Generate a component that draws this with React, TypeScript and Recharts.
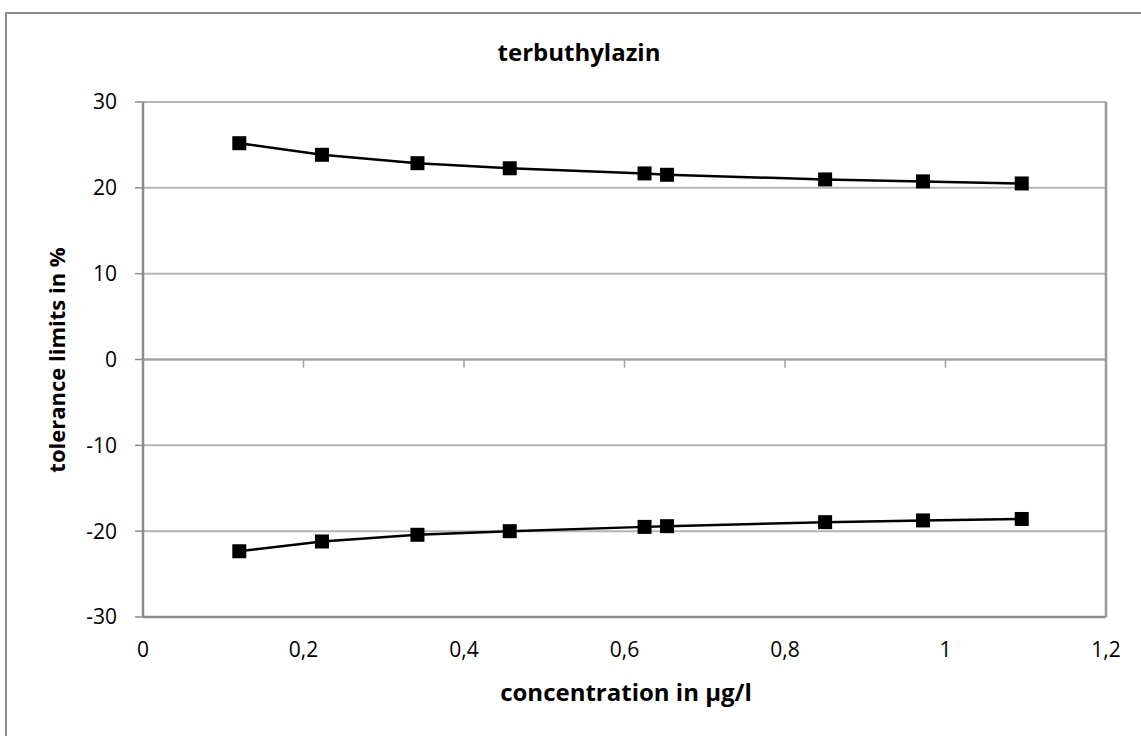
import React from 'react';
import {
  LineChart,
  Line,
  XAxis,
  YAxis,
  CartesianGrid,
  ReferenceLine,
} from 'recharts';

const concentrations = [0.12, 0.223, 0.342, 0.457, 0.625, 0.653, 0.85, 0.972, 1.095];
const upperLimits = [25.2, 23.85, 22.87, 22.28, 21.68, 21.52, 20.98, 20.75, 20.51];
const lowerLimits = [-22.34, -21.2, -20.42, -20.0, -19.5, -19.42, -18.95, -18.75, -18.58];

const xTicks = [0, 0.2, 0.4, 0.6, 0.8, 1, 1.2];
const yTicks = [-30, -20, -10, 0, 10, 20, 30];

const chartTitle = 'terbuthylazin';
const xTitle = 'concentration in µg/l';
const yTitle = 'tolerance limits in %';

const data = concentrations.map((x, i) => ({
  x,
  upper: upperLimits[i],
  lower: lowerLimits[i],
}));

const FONT = '"Open Sans", Lato, sans-serif';

const SquareDot = (props: any) => {
  const { cx, cy } = props;
  if (cx == null || cy == null) return null;
  const s = 14;
  return <rect x={cx - s / 2} y={cy - s / 2} width={s} height={s} fill="#000" />;
};

export default function App() {
  return (
    <div
      style={{
        position: 'absolute',
        left: 0,
        top: 0,
        width: 1141,
        height: 736,
        overflow: 'hidden',
        background: '#fff',
        fontFamily: FONT,
      }}
    >
      <div
        style={{
          position: 'absolute',
          left: 5,
          top: 12,
          width: 1300,
          height: 900,
          borderLeft: '2px solid #8c8c8c',
          borderTop: '2px solid #8c8c8c',
          boxSizing: 'border-box',
        }}
      />
      <div style={{ position: 'absolute', left: 0, top: 0 }}>
        <LineChart
          width={1141}
          height={736}
          data={data}
          margin={{ top: 102, right: 35, left: 0, bottom: 79 }}
        >
          <CartesianGrid vertical={false} stroke="#b4b4b4" strokeWidth={2} />
          <XAxis
            dataKey="x"
            type="number"
            domain={[0, 1.2]}
            ticks={xTicks}
            height={40}
            tickLine={false}
            tickSize={0}
            tickMargin={25}
            axisLine={{ stroke: '#8c8c8c', strokeWidth: 2.5 }}
            tick={{ fill: '#000', fontSize: 21, fontFamily: FONT }}
            tickFormatter={(v: number) => String(v).replace('.', ',')}
            allowDataOverflow
          />
          <YAxis
            type="number"
            domain={[-30, 30]}
            ticks={yTicks}
            width={143}
            tickSize={8}
            tickMargin={18}
            axisLine={{ stroke: '#8c8c8c', strokeWidth: 2.5 }}
            tickLine={{ stroke: '#8c8c8c', strokeWidth: 1.5 }}
            tick={{ fill: '#000', fontSize: 21, fontFamily: FONT }}
          />
          <ReferenceLine y={0} stroke="#a0a0a0" strokeWidth={2} />
          <ReferenceLine x={1.2} stroke="#999" strokeWidth={2.5} />
          {xTicks
            .filter((t) => t > 0 && t < 1.2)
            .map((t) => (
              <ReferenceLine
                key={t}
                segment={[
                  { x: t, y: 0 },
                  { x: t, y: -0.95 },
                ]}
                stroke="#a0a0a0"
                strokeWidth={1.5}
              />
            ))}
          <Line
            dataKey="upper"
            stroke="#000"
            strokeWidth={2.5}
            dot={<SquareDot />}
            activeDot={false}
            isAnimationActive={false}
          />
          <Line
            dataKey="lower"
            stroke="#000"
            strokeWidth={2.5}
            dot={<SquareDot />}
            activeDot={false}
            isAnimationActive={false}
          />
        </LineChart>
      </div>
      <svg
        width={1141}
        height={736}
        style={{ position: 'absolute', left: 0, top: 0, pointerEvents: 'none' }}
      >
        <text x={579} y={61} textAnchor="middle" fontSize={24} fontWeight="bold" fontFamily={FONT} fill="#000">
          {chartTitle}
        </text>
        <text x={626} y={701} textAnchor="middle" fontSize={24} fontWeight="bold" fontFamily={FONT} fill="#000">
          {xTitle}
        </text>
        <text
          x={65}
          y={360}
          transform="rotate(-90 65 360)"
          textAnchor="middle"
          fontSize={22}
          fontWeight="bold"
          fontFamily={FONT}
          fill="#000"
        >
          {yTitle}
        </text>
      </svg>
    </div>
  );
}
